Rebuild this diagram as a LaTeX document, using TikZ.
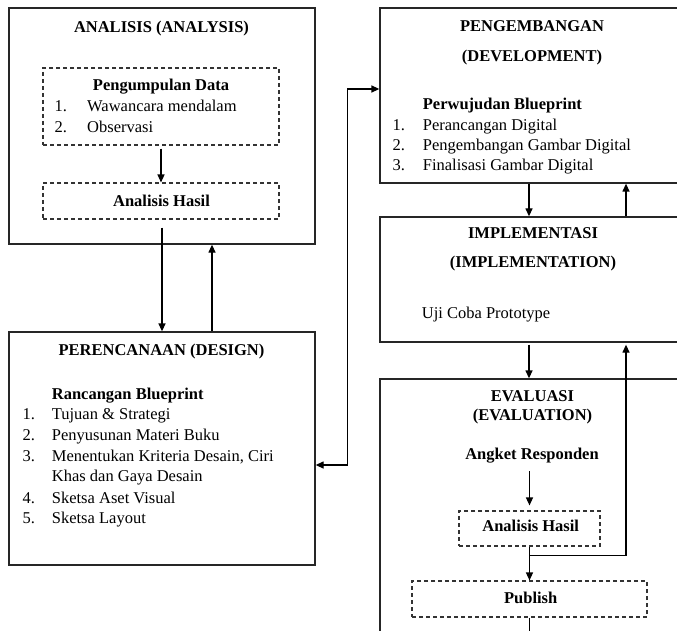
\documentclass[tikz,border=0pt]{standalone}
\usepackage{fontspec}
\setmainfont{Liberation Serif}
\usetikzlibrary{arrows.meta,calc}
\begin{document}
\begin{tikzpicture}[x=1pt,y=-1pt,
  box/.style={draw=black!85,line width=1.3pt,rectangle,inner sep=0pt},
  dbox/.style={draw=black!80,line width=1.1pt,dash pattern=on 4pt off 3pt,rectangle,inner sep=0pt},
  txt/.style={anchor=base,inner sep=0pt,font=\fontsize{16.5}{21}\selectfont},
  btxt/.style={anchor=base,inner sep=0pt,font=\fontsize{16.5}{21}\selectfont\bfseries},
  ltxt/.style={txt,anchor=base west},
  arr/.style={line width=1.3pt,-{Triangle[length=8pt,width=7pt]}},
  ln/.style={line width=1.3pt}]
\useasboundingbox (0,0) rectangle (677,631);
\clip (0,0) rectangle (677,631);
\fill[white] (0,0) rectangle (677,631);

% main boxes
\node[box,minimum width=306pt,minimum height=236pt] (ana) at (162,126) {};
\node[box,minimum width=306pt,minimum height=233pt] (per) at (162,448.5) {};
\node[box,minimum width=298pt,minimum height=175pt] (dev) at (529,95.5) {};
\node[box,minimum width=298pt,minimum height=125pt] (imp) at (529,279.5) {};
\node[box,minimum width=298pt,minimum height=300pt] (eva) at (529,529) {};

% dashed boxes
\node[dbox,minimum width=236pt,minimum height=77pt] (pd) at (161,106.5) {};
\node[dbox,minimum width=236pt,minimum height=36pt] (ah1) at (161,201) {};
\node[dbox,minimum width=141pt,minimum height=35pt] (ah2) at (529.5,528.5) {};
\node[dbox,minimum width=235pt,minimum height=36pt] (pub) at (529.5,599) {};

% ANALISIS texts
\node[btxt] (t1) at (161.5,32.3) {ANALISIS (ANALYSIS)};
\node[btxt] (t2) at (161,91) {Pengumpulan Data};
\node[ltxt] (n1) at (54.5,112) {1.};
\node[ltxt] (i1) at (87,112) {Wawancara mendalam};
\node[ltxt] (n2) at (54.5,132.7) {2.};
\node[ltxt] (i2) at (87,132.7) {Observasi};
\node[btxt] (t3) at (161.5,206.7) {Analisis Hasil};

% PERENCANAAN texts
\node[btxt] (t4) at (161.5,355) {PERENCANAAN (DESIGN)};
\node[btxt,anchor=base west] (t5) at (51.7,399) {Rancangan Blueprint};
\node[ltxt] (pn1) at (22.5,419.3) {1.};
\node[ltxt] (pi1) at (51.7,419.3) {Tujuan \& Strategi};
\node[ltxt] (pn2) at (22.5,440.7) {2.};
\node[ltxt] (pi2) at (51.7,440.7) {Penyusunan Materi Buku};
\node[ltxt] (pn3) at (22.5,461.3) {3.};
\node[ltxt] (pi3) at (51.7,461.3) {Menentukan Kriteria Desain, Ciri};
\node[ltxt] (pi3b) at (51.7,481.7) {Khas dan Gaya Desain};
\node[ltxt] (pn4) at (22.5,503) {4.};
\node[ltxt] (pi4) at (51.7,503) {Sketsa Aset Visual};
\node[ltxt] (pn5) at (22.5,523.3) {5.};
\node[ltxt] (pi5) at (51.7,523.3) {Sketsa Layout};

% PENGEMBANGAN texts
\node[btxt] (t6) at (532,31.7) {PENGEMBANGAN};
\node[btxt] (t7) at (532,61.5) {(DEVELOPMENT)};
\node[btxt,anchor=base west] (t8) at (422.7,110) {Perwujudan Blueprint};
\node[ltxt] (dn1) at (392.5,130.7) {1.};
\node[ltxt] (di1) at (422.7,130.7) {Perancangan Digital};
\node[ltxt] (dn2) at (392.5,150.7) {2.};
\node[ltxt] (di2) at (422.7,150.7) {Pengembangan Gambar Digital};
\node[ltxt] (dn3) at (392.5,171) {3.};
\node[ltxt] (di3) at (422.7,171) {Finalisasi Gambar Digital};

% IMPLEMENTASI texts
\node[btxt] (t9) at (533,238.3) {IMPLEMENTASI};
\node[btxt] (t10) at (533,267.7) {(IMPLEMENTATION)};
\node[ltxt] (t11) at (421.7,318.3) {Uji Coba Prototype};

% EVALUASI texts
\node[btxt] (t12) at (532.5,401.7) {EVALUASI};
\node[btxt] (t13) at (532.5,420) {(EVALUATION)};
\node[btxt] (ang) at (532,459.3) {Angket Responden};
\node[btxt] (t14) at (530.7,531.7) {Analisis Hasil};
\node[btxt] (t15) at (530.7,603.3) {Publish};

% connectors
\draw[arr,shorten <=3pt] (pd.south) -- (ah1.north);
\draw[arr,shorten <=8pt] (per.north |- ah1.south) -- (per.north);
\draw[arr] ([xshift=50pt]per.north) -- ([xshift=50pt]ana.south);
\draw[ln,{Triangle[length=8pt,width=7pt]}-{Triangle[length=8pt,width=7pt]}]
  ([yshift=-16.5pt]per.east) -- ++(32,0) |- ([yshift=6.5pt]dev.west);
\draw[arr] (dev.south) -- (imp.north);
\draw[arr] ([xshift=97pt]imp.north) -- ([xshift=97pt]dev.south);
\draw[arr,shorten <=2pt] (imp.south) -- (eva.north);
\draw[arr,shorten <=8pt,shorten >=5pt] (ah2.north |- ang.south) -- (ah2.north);
\draw[arr] (ah2.south) -- (pub.north);
\coordinate (j) at ($(ah2.south)+(0,9)$);
\draw[arr,shorten >=2pt] (j) -| ([xshift=97pt]imp.south);
\draw[ln] (pub.south) -- ++(0,25);
\end{tikzpicture}
\end{document}
